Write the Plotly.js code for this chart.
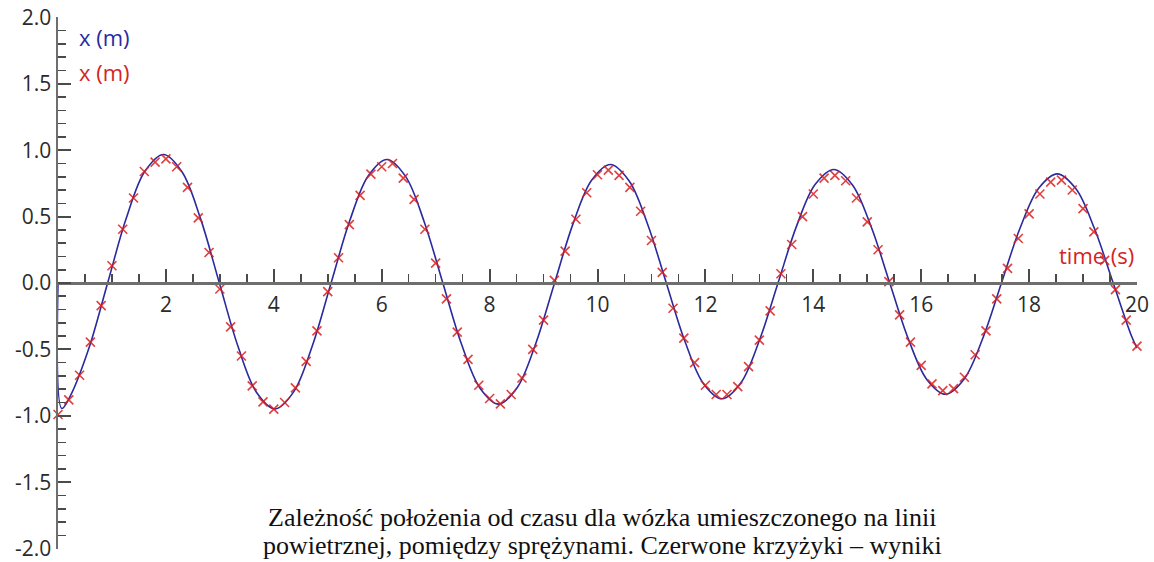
<!DOCTYPE html>
<html>
<head>
<meta charset="utf-8">
<script src="https://cdn.plot.ly/plotly-3.0.1.min.js"></script>
<style>
  html, body { margin: 0; padding: 0; background: #ffffff; }
  #chart { width: 1154px; height: 562px; }
</style>
</head>
<body>
<div id="chart"></div>
<script>
// Measured cart position, sampled every 0.2 s (red crosses)
const sampleTime = [
  0.0, 0.2, 0.4, 0.6, 0.8, 1.0, 1.2, 1.4, 1.6, 1.8,
  2.0, 2.2, 2.4, 2.6, 2.8, 3.0, 3.2, 3.4, 3.6, 3.8,
  4.0, 4.2, 4.4, 4.6, 4.8, 5.0, 5.2, 5.4, 5.6, 5.8,
  6.0, 6.2, 6.4, 6.6, 6.8, 7.0, 7.2, 7.4, 7.6, 7.8,
  8.0, 8.2, 8.4, 8.6, 8.8, 9.0, 9.2, 9.4, 9.6, 9.8,
  10.0, 10.2, 10.4, 10.6, 10.8, 11.0, 11.2, 11.4, 11.6, 11.8,
  12.0, 12.2, 12.4, 12.6, 12.8, 13.0, 13.2, 13.4, 13.6, 13.8,
  14.0, 14.2, 14.4, 14.6, 14.8, 15.0, 15.2, 15.4, 15.6, 15.8,
  16.0, 16.2, 16.4, 16.6, 16.8, 17.0, 17.2, 17.4, 17.6, 17.8,
  18.0, 18.2, 18.4, 18.6, 18.8, 19.0, 19.2, 19.4, 19.6, 19.8,
  20.0
];
const samplePos = [
  -0.99, -0.88, -0.695, -0.445, -0.17, 0.13, 0.405, 0.64, 0.84, 0.91,
  0.935, 0.875, 0.72, 0.49, 0.23, -0.045, -0.33, -0.55, -0.775, -0.895,
  -0.95, -0.90, -0.79, -0.59, -0.36, -0.065, 0.19, 0.44, 0.66, 0.82,
  0.875, 0.90, 0.79, 0.63, 0.405, 0.15, -0.12, -0.37, -0.575, -0.77,
  -0.87, -0.91, -0.84, -0.715, -0.50, -0.28, 0.02, 0.24, 0.48, 0.68,
  0.815, 0.85, 0.81, 0.72, 0.54, 0.32, 0.08, -0.19, -0.415, -0.60,
  -0.77, -0.84, -0.84, -0.78, -0.63, -0.43, -0.21, 0.07, 0.29, 0.50,
  0.67, 0.79, 0.81, 0.77, 0.64, 0.46, 0.25, 0.01, -0.24, -0.445,
  -0.62, -0.76, -0.81, -0.795, -0.71, -0.54, -0.36, -0.12, 0.11, 0.335,
  0.52, 0.67, 0.76, 0.775, 0.70, 0.56, 0.385, 0.17, -0.05, -0.28,
  -0.475
];

// Fitted damped oscillation (blue line)
const fitTime = [
  0.0, 0.07, 0.229, 0.574, 0.920, 1.265, 1.610,
  1.955, 2.300, 2.645, 2.991, 3.336, 3.681,
  4.026, 4.371, 4.716, 5.062, 5.407, 5.752,
  6.097, 6.442, 6.787, 7.133, 7.478, 7.823,
  8.168, 8.513, 8.858, 9.204, 9.549, 9.894,
  10.239, 10.584, 10.929, 11.275, 11.620, 11.965,
  12.310, 12.655, 13.000, 13.346, 13.691, 14.036,
  14.381, 14.726, 15.071, 15.417, 15.762, 16.107,
  16.452, 16.797, 17.142, 17.488, 17.833, 18.178,
  18.523, 18.868, 19.213, 19.559, 19.904, 20.0
];
const fitPos = [
  0.0, -0.945, -0.850, -0.490, 0.0, 0.487, 0.841,
  0.968, 0.836, 0.481, 0.0, -0.477, -0.824,
  -0.948, -0.818, -0.471, 0.0, 0.468, 0.808,
  0.930, 0.803, 0.462, 0.0, -0.459, -0.792,
  -0.912, -0.787, -0.453, 0.0, 0.449, 0.775,
  0.892, 0.770, 0.443, 0.0, -0.439, -0.758,
  -0.872, -0.753, -0.433, 0.0, 0.430, 0.743,
  0.855, 0.738, 0.425, 0.0, -0.422, -0.728,
  -0.838, -0.723, -0.416, 0.0, 0.414, 0.714,
  0.822, 0.709, 0.408, 0.0, -0.405, -0.490
];

// Axis tick labels
const xTickVals = [2, 4, 6, 8, 10, 12, 14, 16, 18, 20];
const xTickText = ['2', '4', '6', '8', '10', '12', '14', '16', '18', '20'];
const yTickVals = [-2, -1.5, -1, -0.5, 0, 0.5, 1, 1.5, 2];
const yTickText = ['-2.0', '-1.5', '-1.0', '-0.5', '0.0', '0.5', '1.0', '1.5', '2.0'];

// Caption lines
const captionLines = [
  'Zależność położenia od czasu dla wózka umieszczonego na linii',
  'powietrznej, pomiędzy sprężynami. Czerwone krzyżyki – wyniki'
];

const blue = '#2a2a9e';
const red = '#d42424';
const axisGrey = '#6e6e6e';
const tickFont = { family: 'Open Sans, sans-serif', size: 21, color: '#2b2b2b' };
const captionFont = { family: 'Liberation Serif, Times New Roman, serif', size: 26, color: '#111111' };

const traces = [
  {
    x: fitTime, y: fitPos,
    type: 'scatter', mode: 'lines',
    line: { color: blue, width: 1.6, shape: 'spline', smoothing: 1 },
    cliponaxis: false,
    hoverinfo: 'skip'
  },
  {
    x: sampleTime, y: samplePos,
    type: 'scatter', mode: 'markers',
    marker: {
      symbol: 'x-thin', size: 9,
      color: red,
      line: { color: 'rgba(218,30,30,0.85)', width: 1.6 }
    },
    cliponaxis: false,
    hoverinfo: 'skip'
  }
];

const layout = {
  width: 1154, height: 562,
  margin: { l: 58, r: 17, t: 17, b: 13, pad: 0 },
  paper_bgcolor: '#ffffff',
  plot_bgcolor: '#ffffff',
  showlegend: false,
  xaxis: {
    range: [0, 20],
    anchor: 'free', position: 0.5, side: 'bottom',
    showgrid: false, zeroline: false,
    showline: true, linecolor: axisGrey, linewidth: 2.5,
    tickmode: 'array', tickvals: xTickVals, ticktext: xTickText,
    ticks: 'inside', ticklen: 13, tickwidth: 2, tickcolor: '#4a4a4a',
    tickfont: tickFont, ticklabelstandoff: 2,
    minor: { tickmode: 'linear', tick0: 0, dtick: 0.5, ticks: 'inside', ticklen: 8, tickwidth: 1.6, tickcolor: '#4a4a4a', showgrid: false }
  },
  yaxis: {
    range: [-2.003, 2.003],
    showgrid: false, zeroline: false,
    showline: true, linecolor: axisGrey, linewidth: 2.5,
    tickmode: 'array', tickvals: yTickVals, ticktext: yTickText,
    ticks: 'inside', ticklen: 13, tickwidth: 2, tickcolor: '#4a4a4a',
    tickfont: tickFont,
    minor: { tickmode: 'linear', tick0: 0, dtick: 0.1, ticks: 'inside', ticklen: 8, tickwidth: 1.6, tickcolor: '#4a4a4a', showgrid: false }
  },
  annotations: [
    {
      text: 'x (m)', xref: 'paper', yref: 'paper', x: 0.0176, y: 0.9615,
      xanchor: 'left', yanchor: 'middle', showarrow: false,
      font: { family: 'Open Sans, sans-serif', size: 22, color: blue }
    },
    {
      text: 'x (m)', xref: 'paper', yref: 'paper', x: 0.0176, y: 0.8966,
      xanchor: 'left', yanchor: 'middle', showarrow: false,
      font: { family: 'Open Sans, sans-serif', size: 22, color: red }
    },
    {
      text: 'time (s)', xref: 'paper', yref: 'paper', x: 0.9995, y: 0.5526,
      xanchor: 'right', yanchor: 'middle', showarrow: false,
      font: { family: 'Open Sans, sans-serif', size: 22, color: red }
    },
    {
      text: captionLines[0],
      xref: 'paper', yref: 'paper', x: 0.505, y: 0.060,
      xanchor: 'center', yanchor: 'middle', showarrow: false,
      font: captionFont
    },
    {
      text: captionLines[1],
      xref: 'paper', yref: 'paper', x: 0.505, y: 0.0075,
      xanchor: 'center', yanchor: 'middle', showarrow: false,
      font: captionFont
    }
  ]
};

Plotly.newPlot('chart', traces, layout, { staticPlot: true, displayModeBar: false });
</script>
</body>
</html>
